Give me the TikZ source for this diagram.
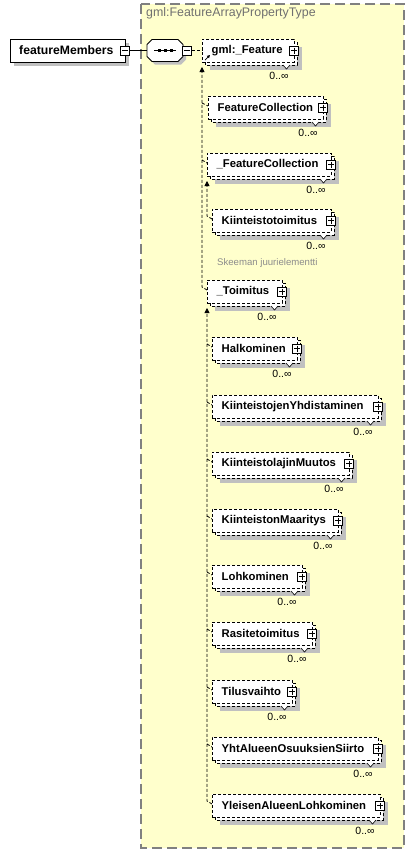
\documentclass[tikz,border=0pt]{standalone}
\usepackage{fontspec}
\setmainfont{Liberation Sans}
\usetikzlibrary{calc,arrows.meta}
\definecolor{bgyellow}{RGB}{255,255,204}
\definecolor{shadowgray}{RGB}{192,192,192}
\definecolor{framegray}{RGB}{128,128,128}
\definecolor{titlegray}{RGB}{112,112,112}
\definecolor{notegray}{RGB}{140,140,140}
\tikzset{
 boxdash/.style={draw=black, line width=0.8pt, dash pattern=on 3pt off 2pt},
 elemfront/.style={boxdash, fill=white, inner sep=0pt, outer sep=0pt, minimum height=23pt, anchor=north west},
 elemtext/.style={font=\fontsize{11.3}{13}\selectfont\bfseries, inner sep=0pt, anchor=west},
 pmbox/.style={draw=black, line width=0.7pt, fill=white, minimum size=9pt, inner sep=0pt},
 occ/.style={font=\fontsize{10.5}{12}\selectfont, inner sep=0pt},
 conn/.style={draw=black, line width=0.8pt, dash pattern=on 3pt off 2pt},
 upar/.style={-{Triangle[length=5pt,width=5pt]}},
}
\newcommand\plusmark[1]{\draw[line width=0.7pt] ($(#1.center)+(-3,0)$) -- ($(#1.center)+(3,0)$) ($(#1.center)+(0,-3)$) -- ($(#1.center)+(0,3)$);}
\newcommand\minusmark[1]{\draw[line width=0.7pt] ($(#1.center)+(-3,0)$) -- ($(#1.center)+(3,0)$);}
\newcommand\xelem[5]{%
 \fill[shadowgray] (#2+8,#3+8) rectangle (#2+#4+8,#3+31);
 \draw[boxdash, fill=white] (#2+3,#3+3) rectangle (#2+#4+3,#3+26);
 \node[elemfront, minimum width=#4pt] (#1) at (#2,#3) {};
 \node[elemtext] (#1-t) at (#2+9.5,#3+11.5) {#5};
 \node[pmbox] (#1-p) at (#2+#4,#3+11.5) {};
 \plusmark{#1-p}
 \fill[white] (#2+#4-11,#3+26) -- (#2+#4-7.5,#3+30) -- (#2+#4-4,#3+26) -- cycle;
 \draw[line width=0.6pt] (#2+#4-11,#3+26) -- (#2+#4-7.5,#3+30) -- (#2+#4-4,#3+26);
 \node[occ] (#1-o) at (#2+#4-15,#3+37) {0..∞};
}
\begin{document}
\begin{tikzpicture}[x=1pt,y=-1pt]
\useasboundingbox (0,0) rectangle (414,855);
\fill[white] (0,0) rectangle (414,855);
% complex type region
\draw[framegray, line width=1.3pt, dash pattern=on 10pt off 5pt, fill=bgyellow] (141,4) rectangle (404,848);
\node[anchor=west, text=titlegray, font=\fontsize{12.4}{14}\selectfont, inner sep=0pt] (ctitle) at (146,13) {gml:FeatureArrayPropertyType};
% featureMembers
\fill[shadowgray] (14,43) rectangle (129,66);
\node[draw, line width=0.8pt, fill=white, minimum width=115pt, minimum height=23pt, anchor=north west, inner sep=0pt] (fm) at (10,39) {};
\node[elemtext, font=\fontsize{12.2}{14}\selectfont\bfseries] (fm-t) at (19,50.5) {featureMembers};
\node[pmbox] (fm-m) at (125,50.5) {}; \minusmark{fm-m}
% sequence compositor
\node[minimum width=36pt, minimum height=22pt, inner sep=0pt] (seq) at (165,50.5) {};
\fill[shadowgray] (150,47.5) -- (155,42.5) -- (181,42.5) -- (186,47.5) -- (186,59.5) -- (181,64.5) -- (155,64.5) -- (150,59.5) -- cycle;
\draw[line width=0.8pt, fill=white] (147,44.5) -- (152,39.5) -- (178,39.5) -- (183,44.5) -- (183,56.5) -- (178,61.5) -- (152,61.5) -- (147,56.5) -- cycle;
\draw[line width=0.8pt] (154,50.5) -- (176,50.5);
\fill (157.5,49) rectangle +(3,3);
\fill (163.5,49) rectangle +(3,3);
\fill (169.5,49) rectangle +(3,3);
\node[pmbox] (seq-m) at (187,50.5) {}; \minusmark{seq-m}
\draw[line width=0.8pt] (fm-m.east) -- (seq.west);
% elements
\xelem{F1}{202}{39}{92}{gml:\_Feature}
\xelem{F2}{208}{96}{115}{FeatureCollection}
\xelem{F3}{207}{153}{124}{\_FeatureCollection}
\xelem{F4}{212}{209}{119}{Kiinteistotoimitus}
\xelem{F5}{207}{280}{75}{\_Toimitus}
\xelem{F6}{212}{337}{85}{Halkominen}
\xelem{F7}{212}{395}{166}{KiinteistojenYhdistaminen}
\xelem{F8}{212}{452}{137}{KiinteistolajinMuutos}
\xelem{F9}{212}{509}{126}{KiinteistonMaaritys}
\xelem{F10}{212}{565}{90}{Lohkominen}
\xelem{F11}{212}{622}{100}{Rasitetoimitus}
\xelem{F12}{212}{680}{80}{Tilusvaihto}
\xelem{F13}{212}{737}{166}{YhtAlueenOsuuksienSiirto}
\xelem{F14}{212}{794}{168}{YleisenAlueenLohkominen}
\node[anchor=west, text=notegray, font=\fontsize{9.6}{11}\selectfont, inner sep=0pt] (note) at (217,263) {Skeeman juurielementti};
% sequence to head element
\draw[conn] (seq-m.east) -- (F1.west);
% reference arrow in gml:_Feature
\draw[line width=0.7pt, -{Triangle[length=3pt,width=3pt]}] ($(F1.south west)+(3,-2)$) -- ($(F1.south west)+(8,-7)$);
% substitution group 1
\coordinate (tip1) at ($(F1.south west)+(0,5)$);
\draw[conn, upar] ([yshift=-10pt]F5.north west) -- ($(tip1 |- F5.north west)+(0,7)$) -- (tip1);
\foreach \c in {F2,F3}{\draw[conn] ($(tip1 |- \c.north west)+(0,7)$) -- ([yshift=-10pt]\c.north west);}
% substitution group 2
\coordinate (tip2) at ($(F3.south west)+(0,5)$);
\draw[conn, upar] ([yshift=-10pt]F4.north west) -- ($(tip2 |- F4.north west)+(0,7)$) -- (tip2);
% substitution group 3
\coordinate (tip3) at ($(F5.south west)+(0,5)$);
\draw[conn, upar] ([yshift=-10pt]F14.north west) -- ($(tip3 |- F14.north west)+(0,7)$) -- (tip3);
\foreach \c in {F6,F7,F8,F9,F10,F11,F12,F13}{\draw[conn] ($(tip3 |- \c.north west)+(0,7)$) -- ([yshift=-10pt]\c.north west);}
\end{tikzpicture}
\end{document}
